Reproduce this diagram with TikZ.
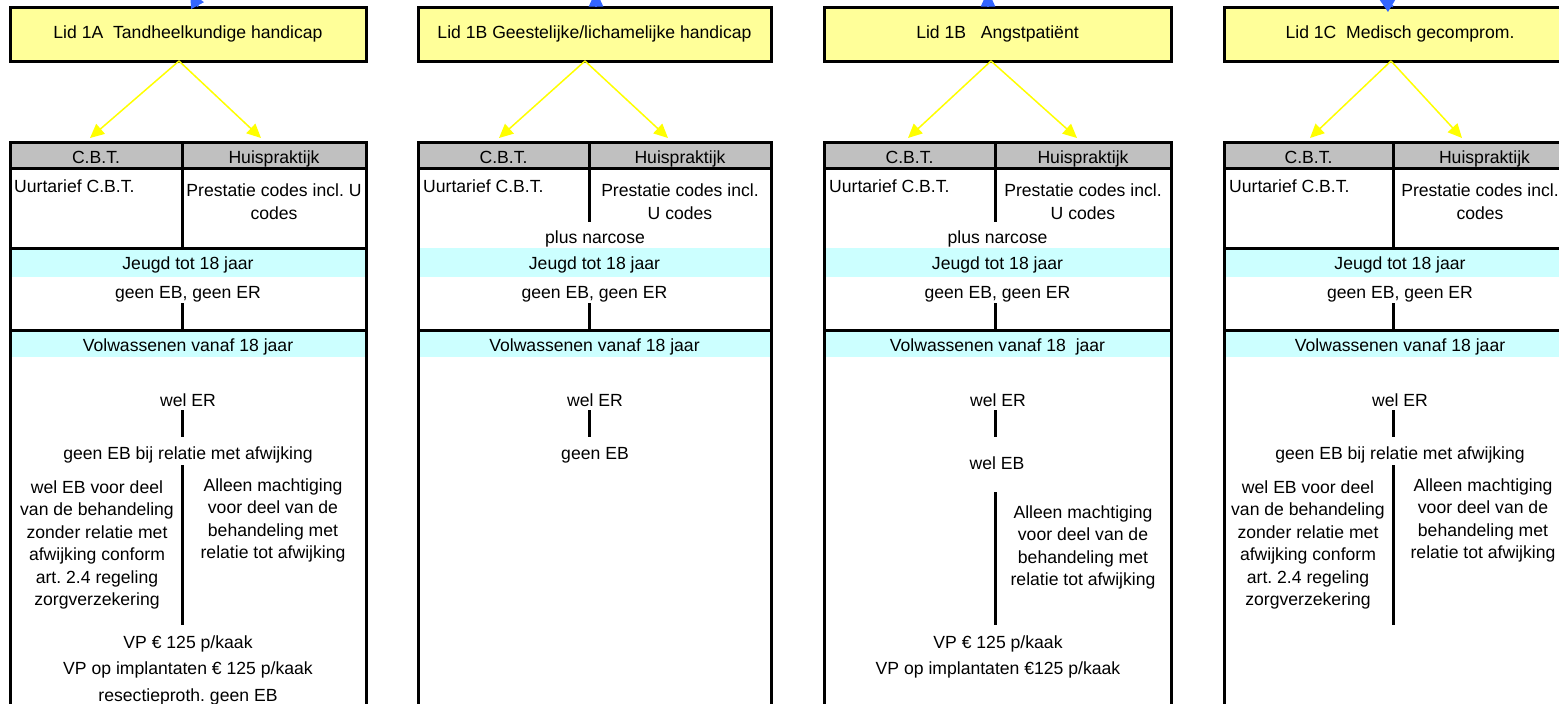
\documentclass[tikz,border=0pt]{standalone}
\usepackage{fontspec}
\setmainfont{Liberation Sans}
\usetikzlibrary{arrows.meta}
\frenchspacing
\definecolor{titlefill}{HTML}{FFFF99}
\definecolor{hdrgray}{HTML}{C0C0C0}
\definecolor{rowcyan}{HTML}{CCFFFF}
\definecolor{arrowyellow}{HTML}{FFFF00}
\definecolor{arrowblue}{HTML}{3366FF}
\begin{document}
\begin{tikzpicture}[x=1pt,y=-1pt,
  every node/.style={font=\fontsize{17.6}{22.5}\selectfont\frenchspacing, text=black, inner sep=0pt},
  titlebox/.style={draw=black, line width=3pt, fill=titlefill, minimum height=54pt},
  hdrcell/.style={fill=hdrgray, minimum height=26pt, text height=16pt, text depth=0pt},
  cyanrow/.style={fill=rowcyan, text depth=0pt},
  txtblock/.style={align=center},
  rule/.style={line width=3pt, black},
  yarrow/.style={arrowyellow, line width=1.5pt, -{Triangle[length=14pt,width=13pt]}},
  barrow/.style={arrowblue, line width=2pt, -{Triangle[length=16pt,width=14pt]}}]
\useasboundingbox (0,0) rectangle (1559,704);

% ---------- fills / header cells / coloured rows ----------
% column 1
\node[hdrcell, minimum width=172pt] (h1a) at (96,155) {C.B.T.};
\node[hdrcell, minimum width=184pt] (h1b) at (274,155) {Huispraktijk};
\node[cyanrow, minimum width=356pt, minimum height=29pt, text height=13.6pt] (j1) at (188,262.5) {Jeugd tot 18 jaar};
\node[cyanrow, minimum width=356pt, minimum height=27pt, text height=15.6pt] (v1) at (188,343.5) {Volwassenen vanaf 18 jaar};
% column 2
\node[hdrcell, minimum width=171pt] (h2a) at (503.5,155) {C.B.T.};
\node[hdrcell, minimum width=182pt] (h2b) at (680,155) {Huispraktijk};
\node[cyanrow, minimum width=353pt, minimum height=29pt, text height=13.6pt] (j2) at (594.5,262.5) {Jeugd tot 18 jaar};
\node[cyanrow, minimum width=353pt, minimum height=27pt, text height=15.6pt] (v2) at (594.5,343.5) {Volwassenen vanaf 18 jaar};
% column 3
\node[hdrcell, minimum width=171pt] (h3a) at (909.5,155) {C.B.T.};
\node[hdrcell, minimum width=176pt] (h3b) at (1083,155) {Huispraktijk};
\node[cyanrow, minimum width=347pt, minimum height=29pt, text height=13.6pt] (j3) at (997.5,262.5) {Jeugd tot 18 jaar};
\node[cyanrow, minimum width=347pt, minimum height=27pt, text height=15.6pt] (v3) at (997.5,343.5) {Volwassenen vanaf 18\ \ jaar};
% column 4
\node[hdrcell, minimum width=169pt] (h4a) at (1308.5,155) {C.B.T.};
\node[hdrcell, minimum width=183pt] (h4b) at (1484.5,155) {Huispraktijk};
\node[cyanrow, minimum width=352pt, minimum height=29pt, text height=13.6pt] (j4) at (1400,262.5) {Jeugd tot 18 jaar};
\node[cyanrow, minimum width=352pt, minimum height=27pt, text height=15.6pt] (v4) at (1400,343.5) {Volwassenen vanaf 18 jaar};

% ---------- table rules ----------
% column 1
\draw[rule] (10,720) -- (10,142) -- (366,142) -- (366,720);
\draw[rule] (10,168) -- (366,168);
\draw[rule] (182,142) -- (182,248);
\draw[rule] (10,248) -- (366,248);
\draw[rule] (182,303) -- (182,330);
\draw[rule] (10,330) -- (366,330);
\draw[rule] (182,410) -- (182,437);
\draw[rule] (182,465) -- (182,625);
% column 2
\draw[rule] (418,720) -- (418,142) -- (771,142) -- (771,720);
\draw[rule] (418,168) -- (771,168);
\draw[rule] (589,142) -- (589,222);
\draw[rule] (589,303) -- (589,330);
\draw[rule] (418,330) -- (771,330);
\draw[rule] (589,410) -- (589,437);
% column 3
\draw[rule] (824,720) -- (824,142) -- (1171,142) -- (1171,720);
\draw[rule] (824,168) -- (1171,168);
\draw[rule] (995,142) -- (995,222);
\draw[rule] (995,303) -- (995,330);
\draw[rule] (824,330) -- (1171,330);
\draw[rule] (995,410) -- (995,437);
\draw[rule] (995,492) -- (995,625);
% column 4
\draw[rule] (1224,720) -- (1224,142) -- (1576,142) -- (1576,720);
\draw[rule] (1224,168) -- (1576,168);
\draw[rule] (1393,142) -- (1393,248);
\draw[rule] (1224,248) -- (1576,248);
\draw[rule] (1393,303) -- (1393,330);
\draw[rule] (1224,330) -- (1576,330);
\draw[rule] (1393,410) -- (1393,437);
\draw[rule] (1393,465) -- (1393,625);

% ---------- title boxes ----------
\node[titlebox, minimum width=356pt] (t1) at (188,34) {Lid 1A\ \ Tandheelkundige handicap};
\node[titlebox, minimum width=353pt] (t2) at (594.5,34) {Lid 1B Geestelijke/lichamelijke handicap};
\node[titlebox, minimum width=347pt] (t3) at (997.5,34) {Lid 1B\ \ \ Angstpati\"ent};
\node[titlebox, minimum width=352pt] (t4) at (1400,34) {Lid 1C\ \ Medisch gecomprom.};

% ---------- blue arrows at the top edge ----------
\draw[barrow] ([xshift=10pt,yshift=-1pt]t1.north) -- ++(-8,-15);
\draw[barrow] ([xshift=1.5pt,yshift=-1pt]t2.north) -- ++(0,-16);
\draw[barrow] ([xshift=-9.5pt,yshift=-1pt]t3.north) -- ++(0,-16);
\draw[barrow] ([xshift=-7pt,yshift=-1pt]t4.north) -- ++(-15,-9);

% ---------- yellow arrows ----------
\coordinate (y1a) at (90,138);   \coordinate (y1b) at (261,138);
\coordinate (y2a) at (499,138);  \coordinate (y2b) at (668,138);
\coordinate (y3a) at (908,138);  \coordinate (y3b) at (1077,138);
\coordinate (y4a) at (1310,138); \coordinate (y4b) at (1462,138);
\draw[yarrow] ([xshift=-9pt,yshift=1.5pt]t1.south) -- (y1a);
\draw[yarrow] ([xshift=-9pt,yshift=1.5pt]t1.south) -- (y1b);
\draw[yarrow] ([xshift=-9.5pt,yshift=1.5pt]t2.south) -- (y2a);
\draw[yarrow] ([xshift=-9.5pt,yshift=1.5pt]t2.south) -- (y2b);
\draw[yarrow] ([xshift=-6.5pt,yshift=1.5pt]t3.south) -- (y3a);
\draw[yarrow] ([xshift=-6.5pt,yshift=1.5pt]t3.south) -- (y3b);
\draw[yarrow] ([xshift=-9pt,yshift=1.5pt]t4.south) -- (y4a);
\draw[yarrow] ([xshift=-9pt,yshift=1.5pt]t4.south) -- (y4b);

% ---------- column 1 texts ----------
\node[anchor=west] (u1) at (14,186) {Uurtarief C.B.T.};
\node[txtblock] (p1) at (274,201.5) {Prestatie codes incl. U\\codes};
\node (g1) at (188,294) {geen EB, geen ER};
\node (we1) at (188,400) {wel ER};
\node (ge1) at (188,455) {geen EB bij relatie met afwijking};
\node[txtblock] (l1) at (97,545) {wel EB voor deel\\van de behandeling\\zonder relatie met\\afwijking conform\\art. 2.4 regeling\\zorgverzekering};
\node[txtblock] (r1) at (273,520.5) {Alleen machtiging\\voor deel van de\\behandeling met\\relatie tot afwijking};
\node (vp1) at (188,644) {VP € 125 p/kaak};
\node (vi1) at (188,670) {VP op implantaten € 125 p/kaak};
\node (rs1) at (188,697) {resectieproth. geen EB};

% ---------- column 2 texts ----------
\node[anchor=west] (u2) at (423,186) {Uurtarief C.B.T.};
\node[txtblock] (p2) at (680,201.5) {Prestatie codes incl.\\U codes};
\node (pn2) at (595,239) {plus narcose};
\node (g2) at (594.5,294) {geen EB, geen ER};
\node (we2) at (595,400) {wel ER};
\node (ge2) at (595,455) {geen EB};

% ---------- column 3 texts ----------
\node[anchor=west] (u3) at (829,186) {Uurtarief C.B.T.};
\node[txtblock] (p3) at (1083,201.5) {Prestatie codes incl.\\U codes};
\node (pn3) at (997.5,239) {plus narcose};
\node (g3) at (997.5,294) {geen EB, geen ER};
\node (we3) at (998,400) {wel ER};
\node (eb3) at (997,463) {wel EB};
\node[txtblock] (r3) at (1083,547.5) {Alleen machtiging\\voor deel van de\\behandeling met\\relatie tot afwijking};
\node (vp3) at (998,644) {VP € 125 p/kaak};
\node (vi3) at (998,670) {VP op implantaten €125 p/kaak};

% ---------- column 4 texts ----------
\node[anchor=west] (u4) at (1229,186) {Uurtarief C.B.T.};
\node[txtblock] (p4) at (1480,201.5) {Prestatie codes incl.\\codes};
\node (g4) at (1400,294) {geen EB, geen ER};
\node (we4) at (1400,400) {wel ER};
\node (ge4) at (1400,455) {geen EB bij relatie met afwijking};
\node[txtblock] (l4) at (1308,545) {wel EB voor deel\\van de behandeling\\zonder relatie met\\afwijking conform\\art. 2.4 regeling\\zorgverzekering};
\node[txtblock] (r4) at (1483,520.5) {Alleen machtiging\\voor deel van de\\behandeling met\\relatie tot afwijking};
\end{tikzpicture}
\end{document}
